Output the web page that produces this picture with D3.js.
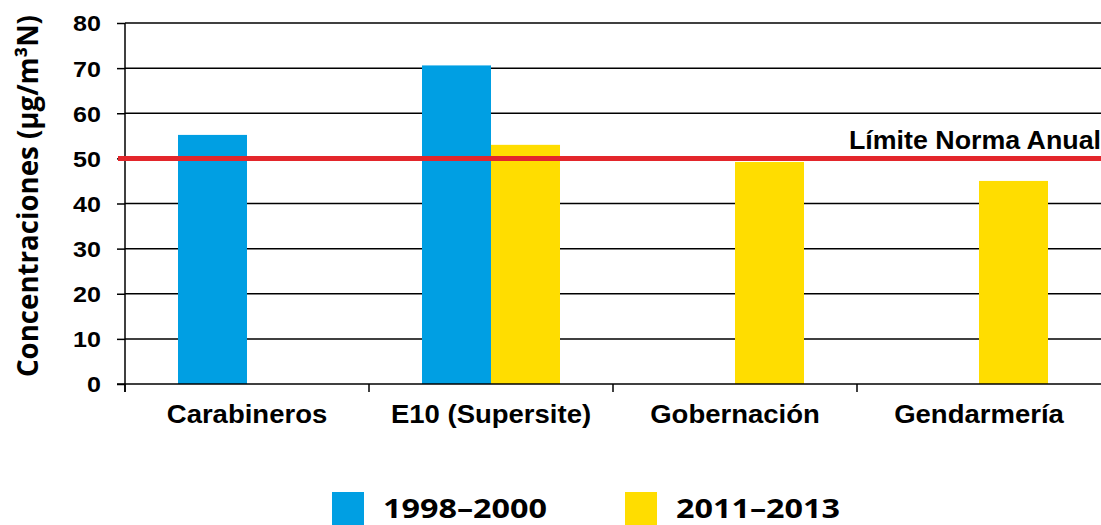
<!DOCTYPE html>
<html><head><meta charset="utf-8">
<script src="https://cdn.jsdelivr.net/npm/d3@7"></script>
<style>body{margin:0;background:#fff}svg{display:block}</style>
</head><body>
<svg id="c" width="1101" height="525"></svg>
<script>
const categories = ["Carabineros", "E10 (Supersite)", "Gobernación", "Gendarmería"];
const series = ["1998–2000", "2011–2013"];
const values1998 = [55.2, 70.6, null, null];
const values2011 = [null, 53, 49.2, 45];
const yTicks = [0, 10, 20, 30, 40, 50, 60, 70, 80];
const limitValue = 50;
const limitLabel = "Límite Norma Anual";
const yTitle = "Concentraciones (µg/m³N)";
const colors = ["#009fe3", "#ffdd00"];

const svg = d3.select("#c");
const m = {l: 125, r: 0, t: 23, b: 141};
const W = 1101, H = 525;
const x = d3.scaleBand().domain(categories).range([m.l, W - m.r]);
const y = d3.scaleLinear().domain([0, 80]).range([H - m.b, m.t]);
const bw = 69;
const font = "Liberation Sans, Arial, sans-serif";

// gridlines
svg.append("g").selectAll("line").data(yTicks.filter(d => d > 0)).join("line")
  .attr("x1", m.l).attr("x2", W).attr("y1", d => y(d)).attr("y2", d => y(d))
  .attr("stroke", "#000").attr("stroke-width", 1.5);

// bars
const data = [];
categories.forEach((c, i) => {
  if (values1998[i] != null) data.push({c, v: values1998[i], s: 0});
  if (values2011[i] != null) data.push({c, v: values2011[i], s: 1});
});
svg.append("g").selectAll("rect").data(data).join("rect")
  .attr("x", d => x(d.c) + x.bandwidth() / 2 - (d.s === 0 ? bw : 0))
  .attr("width", bw)
  .attr("y", d => y(d.v)).attr("height", d => y(0) - y(d.v))
  .attr("fill", d => colors[d.s]);

function stretchText(sel, f) {
  sel.each(function() {
    const w = this.getComputedTextLength();
    d3.select(this).attr("textLength", w * f).attr("lengthAdjust", "spacingAndGlyphs");
  });
}

// axes
const ya = svg.append("g").attr("transform", `translate(${m.l},0)`)
  .call(d3.axisLeft(y).tickValues(yTicks).tickSize(8).tickPadding(16));
ya.selectAll("text").attr("font-family", font).attr("font-weight", "bold").attr("font-size", 22).attr("fill", "#000").attr("dy", "0.36em");
stretchText(ya.selectAll("text"), 1.14);
ya.selectAll("line,path").attr("stroke", "#000").attr("stroke-width", 1.5);
ya.select("path").attr("d", `M0,${y(80)}V${y(0) + 8}`);

const xa = svg.append("g").attr("transform", `translate(0,${y(0)})`)
  .call(d3.axisBottom(x).tickSize(0).tickPadding(21));
xa.selectAll("text").attr("font-family", font).attr("font-weight", "bold").attr("font-size", 25).attr("fill", "#000");
stretchText(xa.selectAll("text"), 1.1);
xa.select("path").attr("d", `M${m.l - 8},0H${W}`).attr("stroke", "#000").attr("stroke-width", 1.5);
svg.append("g").selectAll("line").data(categories).join("line")
  .attr("x1", d => x(d)).attr("x2", d => x(d)).attr("y1", y(0)).attr("y2", y(0) + 8)
  .attr("stroke", "#000").attr("stroke-width", 1.5);

// limit line
svg.append("line").attr("x1", m.l - 7).attr("x2", W).attr("y1", y(limitValue)).attr("y2", y(limitValue))
  .attr("stroke", "#e3262b").attr("stroke-width", 5);
svg.append("text").attr("x", W).attr("y", y(limitValue) - 9).attr("text-anchor", "end")
  .attr("font-family", font).attr("font-weight", "bold").attr("font-size", 25)
  .attr("textLength", 252).attr("lengthAdjust", "spacingAndGlyphs").text(limitLabel);

// y title
svg.append("text").attr("transform", `translate(38,196) rotate(-90)`)
  .attr("text-anchor", "middle").attr("font-family", "Open Sans, DejaVu Sans, sans-serif").attr("font-weight", "bold").attr("font-size", 28)
  .attr("textLength", 362).attr("lengthAdjust", "spacingAndGlyphs")
  .text(yTitle);

// legend
const lg = svg.append("g");
const lx = [332, 625];
series.forEach((s, i) => {
  lg.append("rect").attr("x", lx[i]).attr("y", 492).attr("width", 32).attr("height", 33).attr("fill", colors[i]);
  lg.append("text").attr("x", lx[i] + 51).attr("y", 518).attr("font-family", "Open Sans, DejaVu Sans, sans-serif")
    .attr("font-weight", "bold").attr("font-size", 27)
    .attr("textLength", 164).attr("lengthAdjust", "spacingAndGlyphs").text(s);
});
</script>
</body></html>
